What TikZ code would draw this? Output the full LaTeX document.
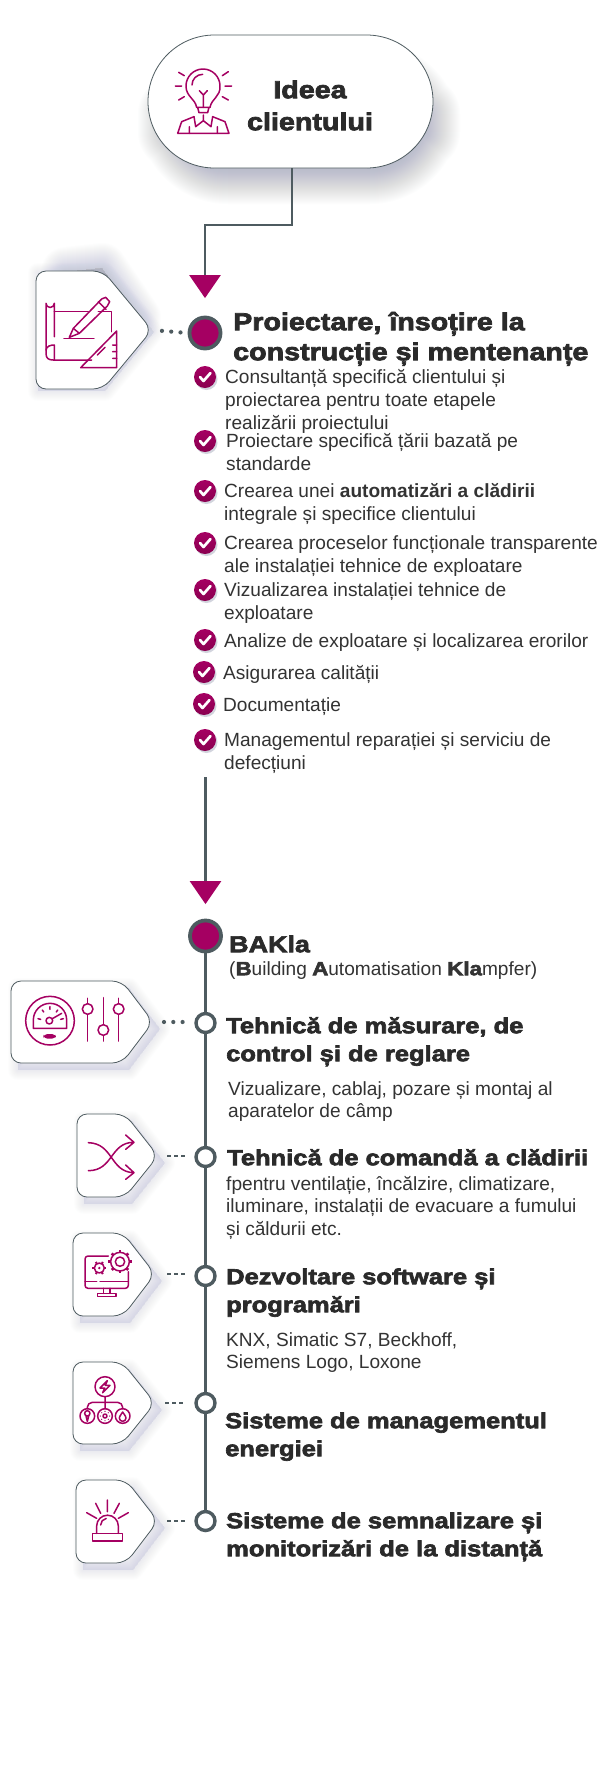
\documentclass[tikz,border=0pt]{standalone}
\usepackage{fontspec}
\setmainfont{Liberation Sans}
\newfontfamily\hd{Liberation Sans}[BoldFeatures={FakeBold=3,FakeStretch=1.17}]
\usetikzlibrary{shapes.misc,arrows.meta}
\definecolor{mag}{HTML}{A50062}
\definecolor{magd}{HTML}{8A0050}
\definecolor{gry}{HTML}{4E5B60}
\definecolor{ink}{HTML}{2A2A2A}
\definecolor{body}{HTML}{333333}
\definecolor{shd}{HTML}{7F84A0}
\tikzset{
  conn/.style={draw=gry,line width=2.6pt},
  bigc/.style={circle,draw=gry,fill=mag,line width=3.8pt,minimum size=31pt,inner sep=0},
  smallc/.style={circle,draw=gry,fill=white,line width=3.4pt,minimum size=19pt,inner sep=0},
  dotsl/.style={draw=gry,line width=4.2pt,line cap=round,dash pattern=on 0pt off 9.3pt},
  dashl/.style={draw=gry,line width=1.8pt,dash pattern=on 4pt off 3.2pt},
  ico/.style={draw=mag,line width=1.5pt,line cap=round,line join=round},
  tagb/.style={draw=gry,line width=.8pt,fill=white,rounded corners=10pt},
  ckc/.style={circle,minimum size=22pt,inner sep=0,top color=mag,bottom color=magd,draw=none},
  atip/.style={-{Triangle[length=23pt,width=31pt,color=mag]}},
  hsm/.style={anchor=north west,inner sep=0,align=left,text=ink,font=\hd\bfseries\fontsize{21.8}{28}\selectfont}
}
% name, x, baseline y, size, leading, rule height, text
\newcommand{\blk}[7]{\node[anchor=north west,inner sep=0,align=left,text=body,font=\fontsize{#4}{#5}\selectfont] (#1) at (#2,{#3-#6}) {\rule{0pt}{#6pt}#7};}
\newcommand{\hdb}[6]{\node[anchor=north west,inner sep=0,align=left,text=ink,font=\hd\bfseries\fontsize{#4}{#5}\selectfont] (#1) at (#2,{#3-24}) {\rule{0pt}{24pt}#6};}
% name,x1,x2,shoulder,y1,y2,tipy,dx,dy
\newcommand{\tagbox}[9]{%
  \foreach \w in {2,4,...,20}{
    \path[fill=shd,draw=shd,line width=\w pt,opacity=.013,line join=round,shift={(#8,#9)}]
      (#2,#5) -- (#4,#5) -- (#3,#7) -- (#4,#6) -- (#2,#6) -- cycle;
  }
  \path[tagb] ({#2+20},#5) -- (#4,#5) -- (#3,#7) -- (#4,#6) -- (#2,#6) -- (#2,#5) -- cycle;
  \coordinate (#1) at (#3,#7);
}
\newcommand{\ckm}[3]{%
  \fill[shd,opacity=.35] ({#2+1.5},{#3+2}) circle (11);
  \node[ckc] (#1) at (#2,#3) {};
  \draw[white,line width=2.7pt,line cap=round,line join=round] ({#2-5},{#3}) -- ({#2-1.5},{#3+4}) -- ({#2+5.5},{#3-4});
}
\begin{document}
\begin{tikzpicture}[x=1pt,y=-1pt]
\useasboundingbox (0,0) rectangle (600,1792);
\fill[white] (0,0) rectangle (600,1792);
% pill shadow
\foreach \w in {2,4,...,76}{
  \path[fill=shd,draw=shd,line width=\w pt,opacity=.014,rounded corners=52pt,line join=round] (176,80) rectangle (422,166);
}
\node[rounded rectangle,draw=gry,line width=.8pt,fill=white,minimum width=285pt,minimum height=133pt,inner sep=0] (pill) at (290.5,101.5) {};
\node[align=center,inner sep=0,text=ink,font=\hd\bfseries\fontsize{24.5}{32}\selectfont,anchor=north] (pilltxt) at (310,{98-25}) {\rule{0pt}{25pt}Ideea\\clientului};
% bulb icon
\begin{scope}[shift={(100,0)},scale=1/3]
 \draw[ico] (290,322) .. controls (285,295) and (258,290) .. (258,258) arc[start angle=180,end angle=360,radius=51] .. controls (362,290) and (335,295) .. (330,322);
 \draw[ico] (290,322) -- (330,322) (293,322) -- (297,338) -- (323,338) -- (327,322);
 \draw[ico] (310,322) -- (310,285) (298,272) -- (310,285) -- (322,272);
 \draw[ico] (276,255) arc[start angle=180,end angle=270,radius=32];
 \draw[ico] (226,258) -- (245,258) (375,258) -- (395,258) (236,217) -- (253,227) (385,215) -- (367,227) (236,300) -- (253,290) (385,300) -- (367,290);
 \draw[ico] (233,400) -- (387,400) (233,400) -- (245,365) -- (282,350) (387,400) -- (375,365) -- (338,350);
 \draw[ico] (282,350) -- (287,380) -- (310,362) -- (333,380) -- (338,350) (310,345) -- (310,362) (268,400) -- (268,380) (352,400) -- (352,380);
\end{scope}
% connector 1
\coordinate (j1) at (292,168);
\coordinate (j2) at (205,225);
\node[bigc] (c1) at (205,333) {};
\draw[conn,atip,shorten >=17.5pt] (j1) |- (j2) -- (c1.north);
% tag 1
\foreach \w in {2,4,...,50}{
  \path[fill=shd,draw=shd,line width=\w pt,opacity=.013,line join=round] (66,272) -- (102,268) -- (136,318) -- (90,322) -- (66,322) -- cycle;
}
\tagbox{tip1}{36}{152}{103}{271}{389}{330}{2}{2}
\begin{scope}[shift={(20,250)},scale=1/3]
 \draw[ico] (103,260) -- (103,160) arc[start angle=0,end angle=180,radius=12.5] -- (78,310) .. controls (78,325) and (85,330) .. (100,330) -- (215,330);
 \draw[ico] (78,300) .. controls (80,288) and (92,285) .. (103,285) -- (103,330);
 \draw[ico] (103,185) -- (205,185) (235,185) -- (275,185) -- (275,245);
 \draw[ico] (148,262) -- (160,235) -- (245,147) -- (257,142) -- (269,155) -- (262,168) -- (178,250) -- cycle;
 \draw[ico] (235,155) -- (258,178) (160,235) -- (178,250);
 \draw[ico] (132,265) -- (222,265);
 \draw[ico] (290,243) -- (290,353) -- (182,353) -- cycle;
 \draw[ico] (290,285) -- (278,285) (290,305) -- (278,305) (290,325) -- (278,325) (232,315) -- (255,292);
\end{scope}
\draw[dotsl,shorten <=10pt,shorten >=6.5pt] (tip1) -- (c1.west);
% checks
\ckm{k1}{205}{377}\ckm{k2}{205}{441}\ckm{k3}{205}{491}\ckm{k4}{205}{543}\ckm{k5}{205}{590}\ckm{k6}{205}{640}\ckm{k7}{204}{672}\ckm{k8}{204}{704}\ckm{k9}{205}{740}
% first list
\hdb{h1}{233}{330}{24.5}{30}{Proiectare, însoțire la\\construcție și mentenanțe}
\blk{p1}{225}{383}{19.1}{23}{16}{Consultanță specifică clientului și\\proiectarea pentru toate etapele\\realizării proiectului}
\blk{p2}{226}{447}{19.1}{23}{16}{Proiectare specifică țării bazată pe\\standarde}
\blk{p3}{224}{497}{19.1}{23}{16}{Crearea unei \textbf{automatizări a clădirii}\\integrale și specifice clientului}
\blk{p4}{224}{549}{19.1}{23}{16}{Crearea proceselor funcționale transparente\\ale instalației tehnice de exploatare}
\blk{p5}{224}{596}{19.1}{23}{16}{Vizualizarea instalației tehnice de\\exploatare}
\blk{p6}{224}{647}{19.1}{23}{16}{Analize de exploatare și localizarea erorilor}
\blk{p7}{223}{679}{19.1}{23}{16}{Asigurarea calității}
\blk{p8}{223}{711}{19.1}{23}{16}{Documentație}
\blk{p9}{224}{746}{19.1}{23}{16}{Managementul reparației și serviciu de\\defecțiuni}
% connector 2
\coordinate (l2) at (205.5,777);
\node[bigc] (c2) at (205.5,936) {};
\draw[conn,atip,shorten >=14.5pt] (l2) -- (c2.north);
\node[smallc] (s1) at (205.5,1023) {};
\node[smallc] (s2) at (205.5,1157) {};
\node[smallc] (s3) at (205.5,1276) {};
\node[smallc] (s4) at (205.5,1403) {};
\node[smallc] (s5) at (205.5,1521) {};
\draw[conn] (c2) -- (s1);
\draw[conn] (s1) -- (s2);
\draw[conn] (s2) -- (s3);
\draw[conn] (s3) -- (s4);
\draw[conn] (s4) -- (s5);
\hdb{h2}{229}{952}{23}{30}{BAKla}
\blk{p10}{229}{975}{19.1}{23}{16}{({\hd\bfseries B}uilding {\hd\bfseries A}utomatisation {\hd\bfseries Kla}mpfer)}
% tag gauge
\tagbox{tip2}{11}{153}{122}{981}{1063}{1022}{7}{7}
\begin{scope}[shift={(10,960)},scale=1/3]
 \draw[ico] (120,182) circle (73);
 \draw[ico] (70,205) -- (70,180) arc[start angle=180,end angle=360,radius=50] -- (170,205) -- cycle;
 \fill[mag,rounded corners=4pt] (100,222) rectangle (138,236);
 \draw[ico] (118,182) circle (10) (127,176) -- (155,160);
 \draw[ico] (84,176) -- (92,178) (97,150) -- (101,156) (120,140) -- (120,148) (143,150) -- (139,156) (152,178) -- (160,176);
 \draw[ico] (233,115) -- (233,243) (280,113) -- (280,243) (326,115) -- (326,243);
 \draw[ico,fill=white] (233,147) circle (16) (280,210) circle (16) (326,147) circle (16);
\end{scope}
\draw[dotsl,shorten <=11pt,shorten >=7pt] (tip2) -- (s1.west |- tip2);
\node[hsm] (h3) at (226,{1033-20}) {\rule{0pt}{20pt}Tehnică de măsurare, de\\control și de reglare};
\blk{p11}{228}{1095}{19.1}{22.5}{16}{Vizualizare, cablaj, pozare și montaj al\\aparatelor de câmp}
% tag shuffle
\tagbox{tip3}{77}{158}{125}{1114}{1197}{1156}{7}{7}
\begin{scope}[shift={(10,960)},scale=1/3]
 \draw[ico] (235,548) .. controls (310,550) and (300,635) .. (370,638) (347,615) -- (372,638) -- (347,658);
 \draw[ico] (235,632) .. controls (310,632) and (300,548) .. (370,547) (347,525) -- (372,547) -- (347,568);
\end{scope}
\draw[dashl,shorten <=9pt,shorten >=9.5pt] (tip3) -- (s2.west |- tip3);
\node[hsm] (h4) at (227,{1165-20}) {\rule{0pt}{20pt}Tehnică de comandă a clădirii};
\blk{p12}{226}{1190}{19.1}{22.5}{16}{fpentru ventilație, încălzire, climatizare,\\iluminare, instalații de evacuare a fumului\\și căldurii etc.}
% tag monitor
\tagbox{tip4}{73}{155}{123}{1233}{1316}{1274}{7}{7}
\begin{scope}[shift={(50,1210)},scale=1/3]
 \draw[ico,rounded corners=3pt] (175,138) -- (105,138) -- (105,235) -- (235,235) -- (235,185);
 \draw[ico] (105,215) -- (140,215) (150,215) -- (235,215) (142,250) -- (198,250) -- (198,260) -- (142,260) -- cycle (160,235) -- (160,250) (180,235) -- (180,250);
 \draw[ico,fill=white] (210,155) circle (28) ;
 \foreach \a in {0,45,...,315}{\draw[mag,line width=2.6pt] (210,155) ++(\a:27) -- ++(\a:8);}
 \draw[ico] (210,155) circle (14);
 \draw[ico,fill=white] (148,174) circle (15);
 \foreach \a in {0,60,...,300}{\draw[mag,line width=2pt] (148,174) ++(\a:15) -- ++(\a:6);}
 \fill[mag] (148,174) circle (4);
\end{scope}
\draw[dashl,shorten <=12pt,shorten >=9.5pt] (tip4) -- (s3.west |- tip4);
\node[hsm] (h5) at (226,{1284-20}) {\rule{0pt}{20pt}Dezvoltare software și\\programări};
\blk{p13}{226}{1346}{19.1}{22.5}{16}{KNX, Simatic S7, Beckhoff,\\Siemens Logo, Loxone}
% tag energy
\tagbox{tip5}{73}{155}{122}{1362}{1444}{1403}{7}{7}
\begin{scope}[shift={(50,1350)},scale=1/3]
 \draw[ico] (165,110) circle (30) (165,140) -- (165,176);
 \draw[ico] (172,92) -- (150,114) -- (164,114) -- (158,128) -- (180,106) -- (166,106) -- cycle;
 \draw[ico,rounded corners=5pt] (112,176) -- (112,157) -- (218,157) -- (218,176);
 \draw[ico] (112,198) circle (22) (165,198) circle (22) (218,198) circle (22);
 \draw[ico] (112,190) circle (8) (108,198) -- (112,214) -- (116,198);
 \draw[ico] (165,198) circle (6);
 \foreach \a in {0,45,...,315}{\fill[mag] (165,198) ++(\a:14) circle (2);}
 \draw[ico] (218,186) .. controls (210,198) and (207,202) .. (208,204) arc[start angle=180,end angle=0,radius=10] .. controls (229,202) and (226,198) .. (218,186);
\end{scope}
\draw[dashl,shorten <=10pt,shorten >=10pt] (tip5) -- (s4.west |- tip5);
\node[hsm] (h6) at (225,{1428-20}) {\rule{0pt}{20pt}Sisteme de managementul\\energiei};
% tag alarm
\tagbox{tip6}{76}{158}{126}{1480}{1563}{1521}{7}{7}
\begin{scope}[shift={(50,1350)},scale=1/3]
 \draw[ico] (140,550) -- (140,528) arc[start angle=180,end angle=360,radius=32.5] -- (205,550);
 \draw[ico] (128,550) rectangle (217,573);
 \draw[ico] (152,525) arc[start angle=180,end angle=260,radius=20];
 \draw[ico] (172,450) -- (172,485) (137,460) -- (152,490) (208,460) -- (192,490) (110,488) -- (140,505) (235,488) -- (205,505);
\end{scope}
\draw[dashl,shorten <=9pt,shorten >=9.5pt] (tip6) -- (s5.west |- tip6);
\node[hsm] (h7) at (226,{1528-20}) {\rule{0pt}{20pt}Sisteme de semnalizare și\\monitorizări de la distanță};
\end{tikzpicture}
\end{document}
